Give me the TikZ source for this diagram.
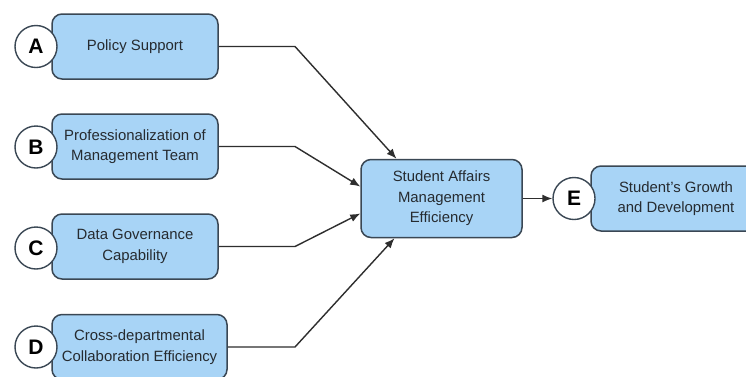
\documentclass[tikz,border=0pt]{standalone}
\usepackage{fontspec}
\setmainfont{Liberation Sans}
\usetikzlibrary{arrows.meta,calc}
\definecolor{boxfill}{HTML}{A8D4F6}
\definecolor{boxline}{HTML}{3A4754}
\definecolor{wire}{HTML}{2E2E2E}
\definecolor{ink}{HTML}{262B30}

\begin{document}
\begin{tikzpicture}[x=1pt,y=-1pt,
  factor/.style={draw=boxline, fill=boxfill, line width=1.5pt, rounded corners=10pt,
    minimum height=65pt, align=center, inner sep=0pt, text=ink,
    font=\fontsize{14.9}{20.5}\selectfont},
  badge/.style={circle, draw=boxline, fill=white, line width=1.4pt, text=black,
    minimum size=42pt, inner sep=0pt, font=\fontsize{21}{21}\selectfont\bfseries},
  link/.style={draw=wire, line width=1.4pt, -{Latex[length=10pt,width=8pt]}}]
\useasboundingbox (0,0) rectangle (746,376);
\clip (0,0) rectangle (746,376);
\fill[white] (0,0) rectangle (746,376);

% influencing factors
\node[factor, minimum width=166pt] (pA) at (135,46.5) {Policy Support};
\node[factor, minimum width=166pt] (pB) at (135,146.5) {Professionalization of\\Management Team};
\node[factor, minimum width=166pt] (pC) at (135,246.5) {Data Governance\\Capability};
\node[factor, minimum width=175pt] (pD) at (139.5,347) {Cross-departmental\\Collaboration Efficiency};

% mediator and outcome
\node[factor, minimum width=161pt, minimum height=78pt] (pM) at (441.5,198.5)
  {Student Affairs\\Management\\Efficiency};
\node[factor, minimum width=170pt] (pE) at (676,198.5) {Student's Growth\\and Development};

% letter badges
\node[badge] (bA) at (36,46.5) {A};
\node[badge] (bB) at (36,147) {B};
\node[badge] (bC) at (36,248) {C};
\node[badge] (bD) at (36,347) {D};
\node[badge] (bE) at (574,198.5) {E};

% elbow connectors into the mediator
\coordinate (jA) at (295,46.5);
\coordinate (jB) at (295,146.5);
\coordinate (jC) at (295,246.5);
\coordinate (jD) at (295,347);
\draw[link] (pA.east) -- (jA) -- ($(pM.north)+(-45,0)$);
\draw[link] (pB.east) -- (jB) -- ($(pM.west)+(0,-12)$);
\draw[link] (pC.east) -- (jC) -- ($(pM.west)+(0,15)$);
\draw[link] (pD.east) -- (jD) -- ($(pM.south)+(-47,0)$);
\draw[link] (pM.east) -- (bE.west);
\end{tikzpicture}
\end{document}
